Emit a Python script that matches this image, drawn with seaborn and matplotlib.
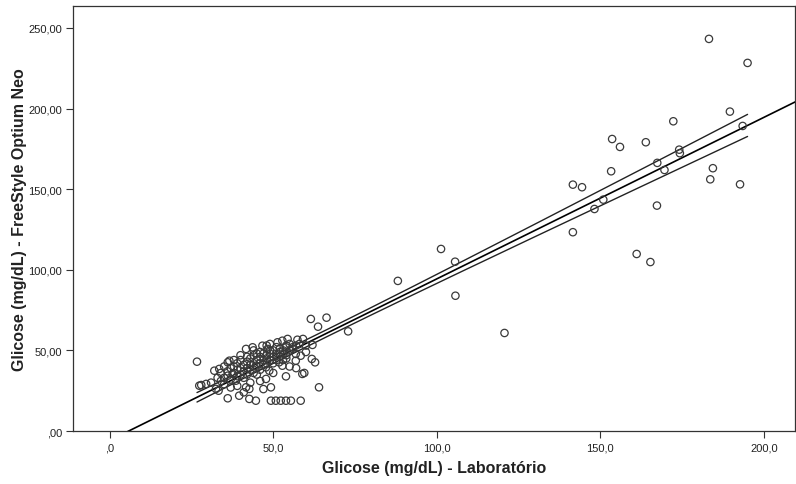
import numpy as np
import pandas as pd
import matplotlib
matplotlib.use("Agg")
import matplotlib.pyplot as plt
import seaborn as sns

# ---- data ----
lab_upper = [183.2, 195.0, 189.6, 193.5, 172.3, 163.9, 153.6, 156.0, 174.1, 174.3, 167.4,
             169.6, 153.3, 184.4, 183.6, 192.7, 141.6, 144.4, 150.9, 148.2, 167.3, 141.6,
             161.1, 165.3, 120.7, 105.6, 101.3, 88.1, 105.7, 72.9, 66.3, 61.5, 63.7]
neo_upper = [243.2, 228.3, 198.1, 189.2, 192.1, 179.1, 181.1, 176.2, 174.5, 172.3, 166.3,
             161.9, 161.1, 163.0, 156.1, 153.0, 152.8, 151.2, 143.5, 137.7, 139.8, 123.3,
             109.8, 104.8, 60.8, 105.0, 112.9, 93.1, 83.9, 61.8, 70.3, 69.5, 64.7]

lab_cluster = [26.7, 28.0, 29.5, 27.4, 32.5, 33.3, 32.0, 33.5, 36.1, 36.6, 36.1, 39.6, 41.7,
               42.7, 42.7, 44.7, 49.3, 50.8, 52.3, 53.9, 55.4, 58.4, 49.3, 47.8, 53.9, 58.9,
               59.5, 64.0, 56.9, 61.8, 62.8, 57.4, 59.1, 62.0, 41.7, 43.7, 46.7, 48.3, 51.3,
               52.8, 54.4, 55.9, 53.9, 56.9, 58.4, 36.1, 37.6, 38.6, 47.8, 48.8, 44.7, 51.8,
               52.8,
               34, 35, 35, 36, 37, 37, 38, 38, 39, 39, 39, 40, 40, 40, 41, 41, 41, 42, 42, 42,
               43, 43, 43, 44, 44, 44, 45, 45, 45, 46, 46, 46, 47, 47, 47, 48, 48, 48, 49, 49,
               49, 50, 50, 50, 51, 51, 51, 52, 52, 53, 53, 53, 54, 54, 55, 55, 56, 57, 58, 40,
               38, 37, 39, 34, 45, 46, 43, 50, 41, 47, 55, 57, 60, 60, 44, 49, 31, 33, 35, 42,
               46, 48, 52, 54]
neo_cluster = [43.0, 28.5, 29.2, 28.1, 26.1, 25.0, 37.4, 38.5, 42.6, 43.6, 20.3, 21.9, 27.1,
               26.1, 19.9, 18.8, 18.8, 18.8, 18.8, 18.8, 18.8, 18.8, 27.1, 32.3, 33.9, 35.4,
               36.0, 27.1, 43.6, 44.7, 42.6, 56.6, 57.1, 53.4, 50.9, 51.9, 52.9, 50.9, 55.0,
               56.0, 57.1, 50.9, 51.9, 47.8, 46.7, 34.3, 35.4, 31.2, 39.5, 37.4, 40.5, 42.6,
               40.5,
               31, 33, 29, 37, 32, 39, 36, 40, 34, 38, 42, 35, 39, 44, 37, 41, 33, 39, 43, 46,
               38, 41, 45, 42, 36, 47, 40, 44, 48, 42, 46, 38, 44, 48, 41, 45, 47, 42, 44, 48,
               50, 46, 42, 50, 47, 44, 52, 49, 46, 48, 50, 44, 47, 53, 50, 54, 52, 53, 54, 47,
               44, 27, 28, 36, 35, 31, 30, 36, 24, 26, 40, 39, 49, 53, 50, 54, 30, 33, 40, 35,
               49, 53, 51, 45]

x_ticks = [0, 50, 100, 150, 200]
x_tick_labels = [",0", "50,0", "100,0", "150,0", "200,0"]
y_ticks = [0, 50, 100, 150, 200, 250]
y_tick_labels = [",00", "50,00", "100,00", "150,00", "200,00", "250,00"]

x_label = "Glicose (mg/dL) - Laboratório"
y_label = "Glicose (mg/dL) - FreeStyle Optium Neo"

df = pd.DataFrame({"lab": lab_upper + lab_cluster, "neo": neo_upper + neo_cluster})

# ---- figure ----
sns.set_theme(style="white")
plt.rcParams["font.family"] = ["Liberation Sans", "DejaVu Sans"]

fig = plt.figure(figsize=(7.96, 4.85), dpi=100)
ax = fig.add_axes([73 / 796, 1 - 432 / 485, (795 - 73) / 796, (432 - 7) / 485])

xlim = (-11.2, 209.5)
ylim = (0, 263.6)

# linear fit and 95% CI of the mean
x = df["lab"].to_numpy()
y = df["neo"].to_numpy()
n = len(x)
b, a = np.polyfit(x, y, 1)
resid = y - (a + b * x)
s = np.sqrt(np.sum(resid ** 2) / (n - 2))
xm = x.mean()
sxx = np.sum((x - xm) ** 2)
tval = 1.973

xf = np.linspace(xlim[0], xlim[1], 200)
ax.plot(xf, a + b * xf, color="black", lw=1.2, zorder=3)
xc = np.linspace(x.min(), x.max(), 200)
se = s * np.sqrt(1 / n + (xc - xm) ** 2 / sxx)
ax.plot(xc, a + b * xc + tval * se, color="#222222", lw=1.0, zorder=3)
ax.plot(xc, a + b * xc - tval * se, color="#222222", lw=1.0, zorder=3)

sns.scatterplot(data=df, x="lab", y="neo", ax=ax, marker="o", s=28,
                facecolor="none", edgecolor="#3a3a3a", linewidth=0.9, zorder=4,
                legend=False)

ax.set_xlim(*xlim)
ax.set_ylim(*ylim)
ax.set_xticks(x_ticks)
ax.set_xticklabels(x_tick_labels)
ax.set_yticks(y_ticks)
ax.set_yticklabels(y_tick_labels)
ax.tick_params(axis="both", which="major", direction="out", length=5, width=0.8,
               color="#333333", labelsize=8, labelcolor="#222222", pad=3,
               bottom=True, left=True)
for sp in ax.spines.values():
    sp.set_visible(True)
    sp.set_color("#333333")
    sp.set_linewidth(0.9)

ax.set_xlabel(x_label, fontsize=11.5, fontweight="bold", color="#222222", labelpad=6)
ax.set_ylabel(y_label, fontsize=11.5, fontweight="bold", color="#222222", labelpad=1)
ax.grid(False)

fig.savefig("out.png", dpi=100)
